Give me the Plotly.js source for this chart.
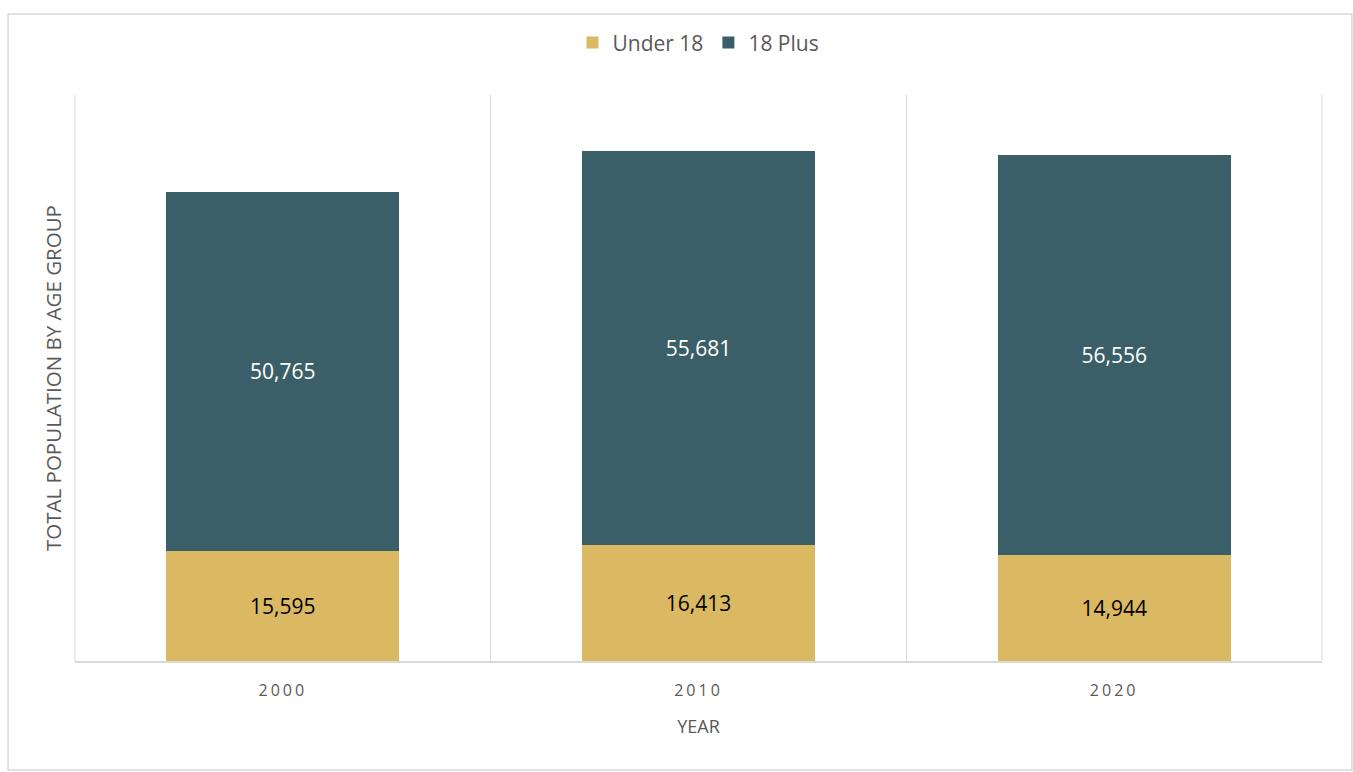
<!DOCTYPE html>
<html>
<head>
<meta charset="utf-8">
<script src="https://cdn.plot.ly/plotly-3.0.1.min.js"></script>
<style>
html,body{margin:0;padding:0;background:#fff;}
#chart{width:1353px;height:772px;}
.xtick text{letter-spacing:3px;}
</style>
</head>
<body>
<div id="chart"></div>
<script>
const years = ['2000', '2010', '2020'];
const under18 = [15595, 16413, 14944];
const plus18 = [50765, 55681, 56556];
const seriesNames = ['Under 18', '18 Plus'];

const fontFam = 'Open Sans, Lato, sans-serif';

const traces = [
  {
    type: 'bar', name: seriesNames[0], x: years, y: under18,
    marker: {color: '#DBB862'},
    texttemplate: '%{y:,}', textposition: 'inside', insidetextanchor: 'middle',
    textfont: {color: '#000000', size: 21, family: fontFam},
    hoverinfo: 'skip'
  },
  {
    type: 'bar', name: seriesNames[1], x: years, y: plus18,
    marker: {color: '#3B5F68'},
    texttemplate: '%{y:,}', textposition: 'inside', insidetextanchor: 'middle',
    textfont: {color: '#ffffff', size: 21, family: fontFam},
    hoverinfo: 'skip'
  }
];

const layout = {
  width: 1353, height: 772,
  margin: {l: 75, r: 31, t: 95, b: 111},
  barmode: 'stack', bargap: 0.44,
  paper_bgcolor: '#ffffff', plot_bgcolor: '#ffffff',
  font: {family: fontFam, color: '#595959'},
  showlegend: true,
  legend: {orientation: 'h', x: 0.5, xanchor: 'center', y: 1.092, yanchor: 'middle',
           itemwidth: 30, font: {size: 21, color: '#595959', family: fontFam}, traceorder: 'normal'},
  xaxis: {
    type: 'category', tickson: 'boundaries', showgrid: true, gridcolor: '#d9d9d9', gridwidth: 1,
    showline: true, linecolor: '#d9d9d9', linewidth: 2, ticks: '',
    ticklabelstandoff: 14,
    tickfont: {size: 16, color: '#595959', family: fontFam},
    title: {text: 'YEAR', font: {size: 18, color: '#595959', family: fontFam}, standoff: 20},
    mirror: false
  },
  yaxis: {
    range: [0, 80000], showgrid: false, showticklabels: false, zeroline: false, showline: false, ticks: '',
    title: {text: 'TOTAL POPULATION BY AGE GROUP', font: {size: 20.5, color: '#595959', family: fontFam}, standoff: 6}
  },
  shapes: [
    {type: 'rect', xref: 'paper', yref: 'paper', x0: -0.0537, x1: 1.024, y0: -0.1926, y1: 1.143,
     line: {color: '#d9d9d9', width: 1.5}, fillcolor: 'rgba(0,0,0,0)', layer: 'below'},
    {type: 'line', xref: 'paper', yref: 'paper', x0: 0, x1: 0, y0: 0, y1: 1,
     line: {color: '#d9d9d9', width: 1}, layer: 'below'},
    {type: 'line', xref: 'paper', yref: 'paper', x0: 1, x1: 1, y0: 0, y1: 1,
     line: {color: '#d9d9d9', width: 1}, layer: 'below'}
  ]
};

Plotly.newPlot('chart', traces, layout, {displayModeBar: false, staticPlot: true});
</script>
</body>
</html>
